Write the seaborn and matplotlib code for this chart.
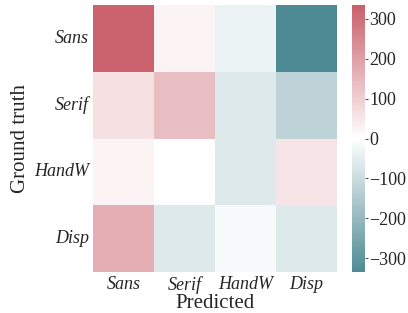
import numpy as np
import pandas as pd
import seaborn as sns
import matplotlib.pyplot as plt

sns.set_style('white')
plt.rcParams['font.family'] = ['Liberation Serif', 'DejaVu Serif']
plt.rcParams['mathtext.fontset'] = 'stix'

# 行：真实类别，列：预测类别
classes = ['Sans', 'Serif', 'HandW', 'Disp']
row_sans = [325, 25, -35, -335]
row_serif = [65, 135, -65, -125]
row_handw = [25, 0, -65, 55]
row_disp = [170, -62, -15, -62]

df = pd.DataFrame([row_sans, row_serif, row_handw, row_disp],
                  index=classes, columns=classes)

fig = plt.figure(figsize=(4.08, 3.13), dpi=100)
ax = fig.add_axes([0.228, 0.131, 0.598, 0.853])
cax = fig.add_axes([0.863, 0.131, 0.032, 0.853])

cmap = sns.blend_palette(['#4e8a94', '#ffffff', '#c95f6a'], as_cmap=True)
sns.heatmap(df, ax=ax, cbar_ax=cax, cmap=cmap, center=0, vmin=-335, vmax=335)

ax.set_xlabel('Predicted', fontsize=15, labelpad=0)
ax.set_ylabel('Ground truth', fontsize=15, labelpad=3)
ax.set_xticklabels(classes, fontsize=13, style='italic', rotation=0)
ax.set_yticklabels(classes, fontsize=13, style='italic', rotation=0)
ax.tick_params(axis='both', length=2, width=0.6, pad=1)
cax.tick_params(labelsize=13, length=2, width=0.6, pad=1)
cax.set_yticks([-300, -200, -100, 0, 100, 200, 300])

fig.savefig('out.png', dpi=100)
